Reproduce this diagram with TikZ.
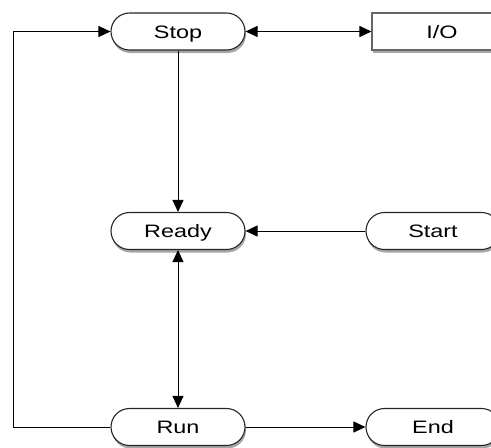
\documentclass[tikz,border=0pt]{standalone}
\usepackage{fontspec}
\setmainfont{Liberation Sans}[FakeStretch=1.3]
\usetikzlibrary{shapes.misc,shadows,arrows.meta}
\begin{document}
\begin{tikzpicture}[x=1pt,y=-1pt,
  base/.style={draw=black!85,line width=1.1pt,fill=white,minimum height=37pt,
    inner sep=0pt,text height=13pt,text depth=0pt,font=\fontsize{18}{21}\selectfont,
    drop shadow={shadow xshift=1pt,shadow yshift=-3pt,opacity=0.35,fill=black}},
  state/.style={base,rounded rectangle,minimum width=134pt},
  iobox/.style={base,rectangle,draw=black!60,minimum width=140pt},
  arrowtip/.tip={Triangle[length=12pt,width=11pt]},
  link/.style={line width=1pt,-arrowtip},
  dlink/.style={line width=1pt,arrowtip-arrowtip}]
\useasboundingbox (0,0) rectangle (491,448);
\node[state] (stop)  at (178,31.5)  {Stop};
\node[iobox] (io)    at (442,31.5)  {I/O};
\node[state] (ready) at (178,231) {Ready};
\node[state] (start) at (433,231) {Start};
\node[state] (run)   at (178,427) {Run};
\node[state] (end)   at (433,427) {End};
\coordinate (loop) at (13,427);
\draw[dlink] (stop.east) -- (io.west);
\draw[link] (stop.south) -- (ready.north);
\draw[link] (start.west) -- (ready.east);
\draw[dlink] (ready.south) -- (run.north);
\draw[link] (run.east) -- (end.west);
\draw[link] (run.west) -- (loop) |- (stop.west);
\end{tikzpicture}
\end{document}
